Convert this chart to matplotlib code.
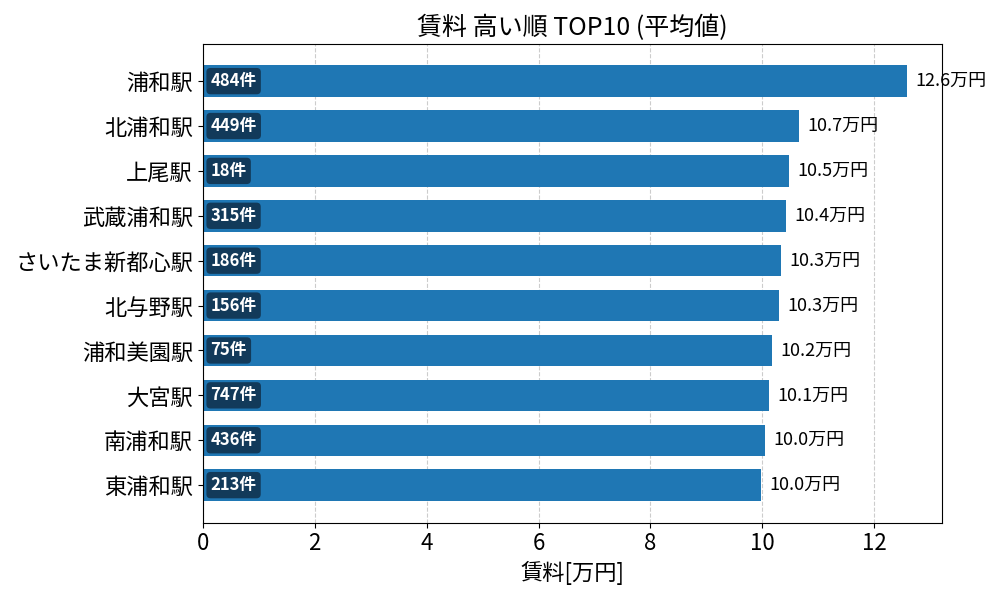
import matplotlib
matplotlib.use("Agg")
import matplotlib.pyplot as plt

plt.rcParams['font.family'] = ['Noto Sans CJK JP', 'DejaVu Sans']

stations = ['浦和駅', '北浦和駅', '上尾駅', '武蔵浦和駅', 'さいたま新都心駅',
            '北与野駅', '浦和美園駅', '大宮駅', '南浦和駅', '東浦和駅']
rent = [12.58, 10.66, 10.48, 10.43, 10.34, 10.30, 10.18, 10.11, 10.04, 9.98]
counts = [484, 449, 18, 315, 186, 156, 75, 747, 436, 213]

fig, ax = plt.subplots(figsize=(10, 6), dpi=100)
y = list(range(len(stations)))
ax.barh(y, rent, height=0.7, color='#1f77b4', zorder=2)
ax.set_yticks(y)
ax.set_yticklabels(stations, fontsize=16)
ax.invert_yaxis()
ax.set_xlim(0, max(rent) * 1.05)
ax.tick_params(axis='x', labelsize=16)
ax.grid(axis='x', linestyle='--', color='#cccccc', zorder=0)
ax.set_axisbelow(True)

for yi, v, c in zip(y, rent, counts):
    ax.text(v + 0.15, yi, f'{v:.1f}万円', va='center', ha='left', fontsize=13)
    ax.text(0.14, yi, f'{c}件', va='center', ha='left', fontsize=12,
            fontweight='bold', color='white', zorder=3,
            bbox=dict(boxstyle='round,pad=0.25', facecolor='#123a5a',
                      edgecolor='none'))

ax.set_title('賃料 高い順 TOP10 (平均値)', fontsize=18)
ax.set_xlabel('賃料[万円]', fontsize=16)

fig.tight_layout()
fig.savefig('out.png')
